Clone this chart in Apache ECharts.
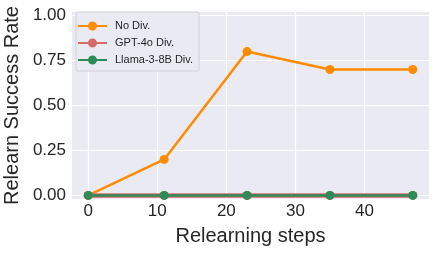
<!DOCTYPE html>
<html>
<head>
<meta charset="utf-8">
<script src="https://cdn.jsdelivr.net/npm/echarts@6/dist/echarts.min.js"></script>
<style>html,body{margin:0;padding:0;background:#fff}#c{width:438px;height:254px}</style>
</head>
<body>
<div id="c"></div>
<script>
const steps = [0, 11, 23, 35, 47];
const noDiv = [0.0, 0.2, 0.8, 0.7, 0.7];
const gptDiv = [0.0, 0.0, 0.0, 0.0, 0.0];
const llamaDiv = [0.0, 0.0, 0.0, 0.0, 0.0];
const xTicks = [0, 10, 20, 30, 40];
const yTicks = [0, 0.25, 0.5, 0.75, 1.0];

const FONT = 'Liberation Sans, Arial, sans-serif';
const ICON = 'path://M0,3.6 L29,3.6 L29,5.4 L0,5.4 Z M10,4.5 A4.5,4.5 0 1 1 19,4.5 A4.5,4.5 0 1 1 10,4.5 Z';
const pairs = arr => steps.map((s, i) => [s, arr[i]]);
const chart = echarts.init(document.getElementById('c'), null, {renderer: 'canvas'});
chart.setOption({
  animation: false,
  backgroundColor: '#ffffff',
  grid: {left: 72, right: 9, top: 12, bottom: 55, show: true, backgroundColor: '#EAEAF2', borderWidth: 0,
         containLabel: false, outerBoundsMode: 'none'},
  xAxis: {
    type: 'value', min: -2.35, max: 49.35,
    name: 'Relearning steps', nameLocation: 'middle', nameGap: 27,
    nameTextStyle: {fontFamily: FONT, fontSize: 20, color: '#262626'},
    axisLine: {show: false},
    axisTick: {show: false, customValues: xTicks},
    axisLabel: {customValues: xTicks, fontFamily: FONT, fontSize: 17, color: '#262626', margin: 4},
    splitLine: {show: true, lineStyle: {color: '#ffffff', width: 1.2}}
  },
  yAxis: {
    type: 'value', min: -0.02, max: 1.02,
    name: 'Relearn Success Rate', nameLocation: 'middle', nameGap: 45,
    nameTextStyle: {fontFamily: FONT, fontSize: 20, color: '#262626'},
    axisLine: {show: false},
    axisTick: {show: false, customValues: yTicks},
    axisLabel: {customValues: yTicks, fontFamily: FONT, fontSize: 17, color: '#262626', margin: 6,
      formatter: v => v.toFixed(2)},
    splitLine: {show: true, lineStyle: {color: '#ffffff', width: 1.2}}
  },
  legend: {
    orient: 'vertical', left: 76, top: 12,
    padding: [8, 6, 5, 2], itemGap: 5, itemWidth: 29, itemHeight: 9,
    backgroundColor: '#EAEAF2', borderColor: '#D0D0D8', borderWidth: 1, borderRadius: 2,
    textStyle: {fontFamily: FONT, fontSize: 11, color: '#262626', padding: [0,0,0,3], lineHeight: 12},
    data: [
      {name: 'No Div.', icon: ICON},
      {name: 'GPT-4o Div.', icon: ICON},
      {name: 'Llama-3-8B Div.', icon: ICON}
    ]
  },
  series: [
    {name: 'No Div.', type: 'line', data: pairs(noDiv), color: '#FF8C00',
     lineStyle: {width: 2.5}, symbol: 'circle', symbolSize: 9, z: 3},
    {name: 'GPT-4o Div.', type: 'line', data: pairs(gptDiv), color: '#D46A6A',
     lineStyle: {width: 4.5}, symbol: 'circle', symbolSize: 9, z: 4},
    {name: 'Llama-3-8B Div.', type: 'line', data: pairs(llamaDiv), color: '#2E8B57',
     lineStyle: {width: 2.5}, symbol: 'circle', symbolSize: 9, z: 5}
  ]
});
</script>
</body>
</html>
